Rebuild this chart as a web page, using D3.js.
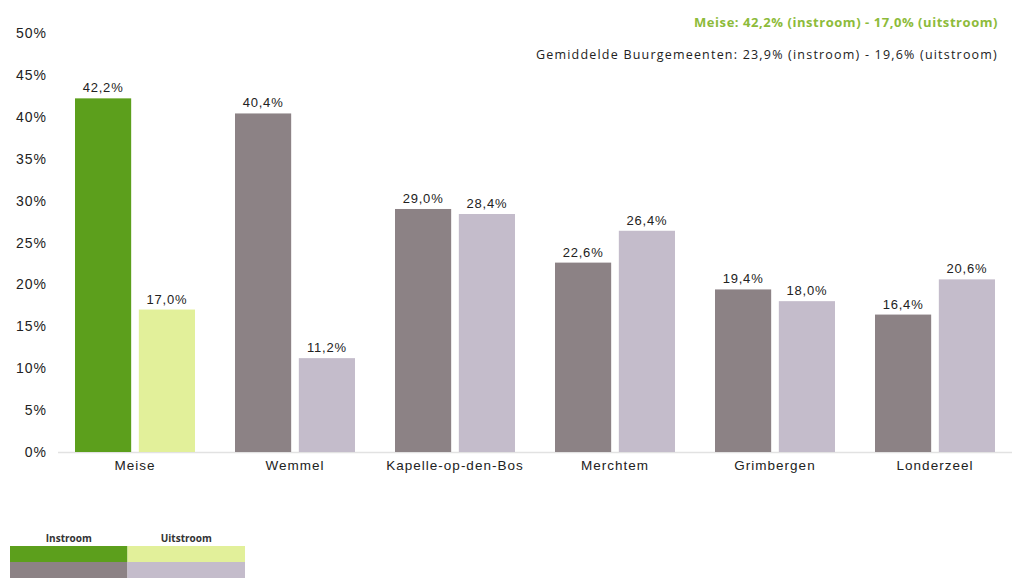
<!DOCTYPE html>
<html><head><meta charset="utf-8">
<script src="https://cdn.jsdelivr.net/npm/d3@7"></script>
<style>body{margin:0;background:#fff}svg{display:block}text{font-family:"Liberation Sans",Arial,sans-serif}</style>
</head><body><svg id="c" width="1024" height="578"></svg>
<script>
const categories = ["Meise","Wemmel","Kapelle-op-den-Bos","Merchtem","Grimbergen","Londerzeel"];
const series = ["Instroom","Uitstroom"];
const instroom = [42.2,40.4,29.0,22.6,19.4,16.4];
const uitstroom = [17.0,11.2,28.4,26.4,18.0,20.6];
const yTicks = [0,5,10,15,20,25,30,35,40,45,50];
const note1 = "Meise: 42,2% (instroom) - 17,0% (uitstroom)";
const note2 = "Gemiddelde Buurgemeenten: 23,9% (instroom) - 19,6% (uitstroom)";

const colMeise = ["#5c9f1c","#e2f09a"];
const colOther = ["#8c8285","#c4bccb"];

const svg = d3.select("#c");
const x = d3.scaleBand().domain(categories).range([55,1015]).padding(0);
const xs = d3.scaleBand().domain(series).range([20,140]).paddingInner(0.12);
const y = d3.scaleLinear().domain([0,50]).range([452,33]);

// y tick labels
svg.append("g").selectAll("text").data(yTicks).join("text")
  .attr("x",47).attr("y",d=>y(d)+5).attr("text-anchor","end")
  .attr("font-size",14).attr("letter-spacing",1).attr("fill","#222").text(d=>d+"%");

// baseline
svg.append("line").attr("x1",58).attr("x2",1012).attr("y1",y(0)+0.5).attr("y2",y(0)+0.5)
  .attr("stroke","#e2e2e2").attr("stroke-width",1.5);

const data = [];
categories.forEach((c,i)=>{
  data.push({c, s:"Instroom", v:instroom[i], col:(i===0?colMeise:colOther)[0]});
  data.push({c, s:"Uitstroom", v:uitstroom[i], col:(i===0?colMeise:colOther)[1]});
});
const fmt = v => v.toFixed(1).replace(".",",")+"%";

svg.append("g").selectAll("rect").data(data).join("rect")
  .attr("x",d=>x(d.c)+xs(d.s)).attr("width",xs.bandwidth())
  .attr("y",d=>y(d.v)).attr("height",d=>y(0)-y(d.v)).attr("fill",d=>d.col);

svg.append("g").selectAll("text").data(data).join("text")
  .attr("x",d=>x(d.c)+xs(d.s)+xs.bandwidth()/2).attr("y",d=>y(d.v)-6)
  .attr("text-anchor","middle").attr("font-size",13).attr("letter-spacing",0.8)
  .attr("fill","#222").text(d=>fmt(d.v));

svg.append("g").selectAll("text").data(categories).join("text")
  .attr("x",d=>x(d)+x.bandwidth()/2).attr("y",470).attr("text-anchor","middle")
  .attr("font-size",13.5).attr("letter-spacing",1).attr("fill","#222").text(d=>d);

svg.append("text").attr("x",998).attr("y",27).attr("text-anchor","end")
  .attr("font-size",13).attr("font-weight","bold").attr("letter-spacing",0.55).attr("fill","#8dbb3a")
  .style("font-family","'Open Sans',sans-serif").text(note1);
svg.append("text").attr("x",998).attr("y",59).attr("text-anchor","end")
  .attr("font-size",12.5).attr("letter-spacing",1.2).attr("fill","#222")
  .style("font-family","'Open Sans',sans-serif").text(note2);

// legend table
const lx = d3.scaleBand().domain(series).range([10,245]);
const lg = svg.append("g");
lg.selectAll("text").data(series).join("text")
  .attr("x",d=>lx(d)+lx.bandwidth()/2).attr("y",542).attr("text-anchor","middle")
  .attr("font-size",10).attr("font-weight","bold").attr("fill","#333")
  .style("font-family","'Open Sans',sans-serif").text(d=>d);
[colMeise,colOther].forEach((cols,r)=>{
  lg.selectAll("rect.r"+r).data(series).join("rect").attr("class","r"+r)
    .attr("x",d=>lx(d)).attr("width",lx.bandwidth())
    .attr("y",546+r*16).attr("height",16).attr("fill",(d,i)=>cols[i]);
});
</script></body></html>
